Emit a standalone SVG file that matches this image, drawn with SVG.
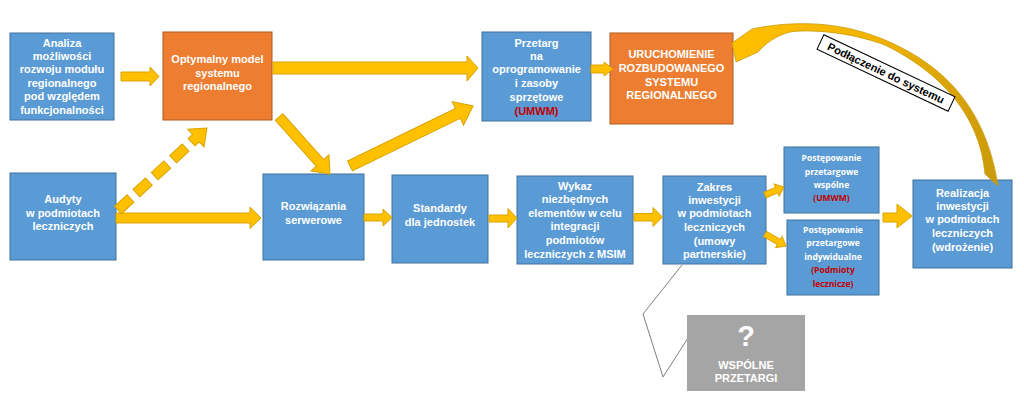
<svg xmlns="http://www.w3.org/2000/svg" width="1024" height="408" viewBox="0 0 1024 408">
<defs>
<style>
.b{fill:#5B9BD5;stroke:#41719C;stroke-width:1}
.o{fill:#ED7D31;stroke:#AE5A21;stroke-width:1}
.g{fill:#A5A5A5}
.t{font-family:"Liberation Sans",Arial,sans-serif;font-weight:bold;font-size:11px;fill:#fff;text-anchor:middle}
.s{font-family:"Open Sans","Liberation Sans",sans-serif;font-weight:bold;font-size:8.5px;fill:#fff;text-anchor:middle}
.r{fill:#C00000}
.a{fill:#FFC000;stroke:#D9A300;stroke-width:1}
.c{fill:none;stroke:#7F7F7F;stroke-width:1}
</style>
<linearGradient id="cg" x1="0" y1="0" x2="1" y2="0">
<stop offset="0" stop-color="#FFC000"/>
<stop offset="0.55" stop-color="#F2B300"/>
<stop offset="1" stop-color="#C99A0A"/>
</linearGradient>
</defs>
<rect width="1024" height="408" fill="#fff"/>

<g id="n1"><rect class="b" x="10" y="33" width="104" height="87"/>
<text class="t"><tspan x="62" y="47">Analiza</tspan><tspan x="62" y="60">możliwości</tspan><tspan x="62" y="73">rozwoju modułu</tspan><tspan x="62" y="87">regionalnego</tspan><tspan x="62" y="100">pod względem</tspan><tspan x="62" y="114">funkcjonalności</tspan></text></g>

<g id="n2"><rect class="o" x="163" y="32" width="109" height="88"/>
<text class="t"><tspan x="217.5" y="63">Optymalny model</tspan><tspan x="217.5" y="77">systemu</tspan><tspan x="217.5" y="90">regionalnego</tspan></text></g>

<g id="n3"><rect class="b" x="482" y="32" width="109" height="89"/>
<text class="t"><tspan x="536.5" y="47">Przetarg</tspan><tspan x="536.5" y="60">na</tspan><tspan x="536.5" y="73">oprogramowanie</tspan><tspan x="536.5" y="87">i zasoby</tspan><tspan x="536.5" y="101">sprzętowe</tspan><tspan x="536.5" y="115" class="r">(UMWM)</tspan></text></g>

<g id="n4"><rect class="o" x="610" y="33" width="123" height="91"/>
<text class="t"><tspan x="671.5" y="58">URUCHOMIENIE</tspan><tspan x="671.5" y="72">ROZBUDOWANEGO</tspan><tspan x="671.5" y="86">SYSTEMU</tspan><tspan x="671.5" y="99">REGIONALNEGO</tspan></text></g>

<g id="n5"><rect class="b" x="10" y="173" width="106" height="87"/>
<text class="t"><tspan x="63" y="203">Audyty</tspan><tspan x="63" y="217">w podmiotach</tspan><tspan x="63" y="230">leczniczych</tspan></text></g>

<g id="n6"><rect class="b" x="263" y="174" width="101" height="86"/>
<text class="t"><tspan x="313.5" y="210">Rozwiązania</tspan><tspan x="313.5" y="224">serwerowe</tspan></text></g>

<g id="n7"><rect class="b" x="392" y="175" width="96" height="88"/>
<text class="t"><tspan x="440" y="212">Standardy</tspan><tspan x="440" y="226">dla jednostek</tspan></text></g>

<g id="n8"><rect class="b" x="517" y="176" width="116" height="88"/>
<text class="t"><tspan x="575" y="190">Wykaz</tspan><tspan x="575" y="203">niezbędnych</tspan><tspan x="575" y="217">elementów w celu</tspan><tspan x="575" y="230">integracji</tspan><tspan x="575" y="244">podmiotów</tspan><tspan x="575" y="258">leczniczych z MSIM</tspan></text></g>

<g id="n9"><rect class="b" x="663" y="176" width="103" height="88"/>
<text class="t"><tspan x="714.5" y="191">Zakres</tspan><tspan x="714.5" y="204">inwestycji</tspan><tspan x="714.5" y="217">w podmiotach</tspan><tspan x="714.5" y="231">leczniczych</tspan><tspan x="714.5" y="245">(umowy</tspan><tspan x="714.5" y="258">partnerskie)</tspan></text></g>

<g id="n10"><rect class="b" x="784" y="147" width="95" height="66"/>
<text class="s"><tspan x="831.5" y="161">Postępowanie</tspan><tspan x="831.5" y="175">przetargowe</tspan><tspan x="831.5" y="188">wspólne</tspan><tspan x="831.5" y="201" class="r">(UMWM)</tspan></text></g>

<g id="n11"><rect class="b" x="787" y="220" width="92" height="75"/>
<text class="s"><tspan x="833" y="233">Postępowanie</tspan><tspan x="833" y="246">przetargowe</tspan><tspan x="833" y="260">indywidualne</tspan><tspan x="833" y="273" class="r">(Podmioty</tspan><tspan x="833" y="287" class="r">lecznicze)</tspan></text></g>

<g id="n12"><rect class="b" x="913" y="180" width="99" height="88"/>
<text class="t"><tspan x="962.5" y="197">Realizacja</tspan><tspan x="962.5" y="210">inwestycji</tspan><tspan x="962.5" y="223">w podmiotach</tspan><tspan x="962.5" y="237">leczniczych</tspan><tspan x="962.5" y="251">(wdrożenie)</tspan></text></g>

<g id="n13"><polyline class="c" points="682,265 643,314 663,377 688,338"/>
<rect class="g" x="687" y="315" width="118" height="76"/>
<text class="t" x="746" y="346" style="font-size:29px">?</text>
<text class="t"><tspan x="746" y="369">WSPÓLNE</tspan><tspan x="746" y="382">PRZETARGI</tspan></text></g>

<g id="connectors">
<polygon class="a" points="121,72 150,72 150,67 159,76.5 150,86 150,81 121,81"/>
<polygon class="a" points="273,62 467,62 467,56 478,68 467,81 467,74 273,74"/>
<polygon class="a" points="591,65 604,65 604,62 613,69 604,76 604,73 591,73"/>
<polygon class="a" points="116,213 250,213 250,207 261,218 250,228.5 250,223 116,223"/>
<polygon class="a" points="364,214 383,214 383,209 392,217.5 383,226 383,221 364,221"/>
<polygon class="a" points="489,215 508,215 508,208.5 517,218 508,228 508,222 489,222"/>
<polygon class="a" points="634,213.5 653,213.5 653,207.5 662.5,217 653,226.5 653,221 634,221"/>
<polygon class="a" points="883,213 897,213 897,204 912,216 897,228 897,222 883,222"/>
<polygon class="a" transform="translate(279,117) rotate(48.2)" points="0,-5 61.5,-5 61.5,-12 76.5,0 61.5,12 61.5,5 0,5"/>
<polygon class="a" transform="translate(350,166) rotate(-26)" points="0,-5.5 120,-5.5 120,-13 137,0 120,13 120,5.5 0,5.5"/>
<g transform="translate(118,210) rotate(-42.7)">
<polygon class="a" points="0,-5 17,-5 17,5 0,5"/>
<polygon class="a" points="25,-5 42,-5 42,5 25,5"/>
<polygon class="a" points="50,-5 67,-5 67,5 50,5"/>
<polygon class="a" points="75,-5 92,-5 92,5 75,5"/>
<polygon class="a" points="100,-5 106,-5 106,-12 121,0 106,12 106,5 100,5"/>
</g>
<polygon class="a" transform="translate(765,195) rotate(-22.8)" points="0,-3 12.6,-3 12.6,-6.5 20.6,0 12.6,6.5 12.6,3 0,3"/>
<polygon class="a" transform="translate(765,234) rotate(29.7)" points="0,-3 16,-3 16,-6.5 24.2,0 16,6.5 16,3 0,3"/>
<path fill="url(#cg)" stroke="#C99A0A" stroke-width="0.8" d="M732,43 L752,29 C795,20 840,22 880,38 C935,60 985,100 998,186 L985,174 C980,115 940,72 885,45 C850,32 810,29 790,32 C775,36 765,44 758,52 L736,62 Z"/>
<g id="label" transform="translate(886,73) rotate(25.3)">
<rect x="-72.5" y="-8" width="145" height="16" fill="#fff" stroke="#000" stroke-width="1"/>
<text x="0" y="4" style="font-family:'Liberation Sans',Arial,sans-serif;font-weight:bold;font-size:11px;fill:#000;text-anchor:middle">Podłączenie do systemu</text>
</g>
</g>
</svg>
